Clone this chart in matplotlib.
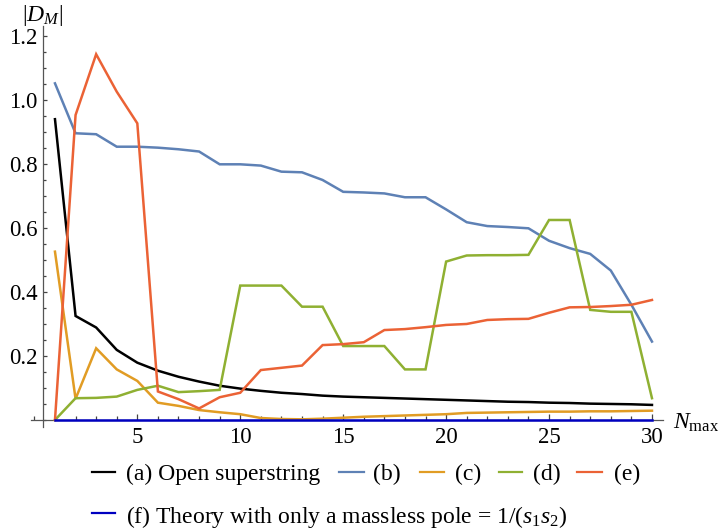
import numpy as np
import matplotlib
matplotlib.use("Agg")
import matplotlib.pyplot as plt
from matplotlib.lines import Line2D
from matplotlib.ticker import MultipleLocator, FixedLocator

plt.rcParams['font.family'] = ['Liberation Serif', 'DejaVu Serif']
plt.rcParams['mathtext.fontset'] = 'custom'
plt.rcParams['mathtext.rm'] = 'Liberation Serif'
plt.rcParams['mathtext.it'] = 'Liberation Serif:italic'

# Truncation level
n_max = list(range(1, 31))

# |D_M| for each theory
d_a = [0.94, 0.325, 0.289, 0.219, 0.179, 0.154, 0.135, 0.12, 0.107, 0.098,
       0.091, 0.085, 0.081, 0.076, 0.073, 0.071, 0.069, 0.067, 0.065, 0.063,
       0.061, 0.059, 0.057, 0.056, 0.054, 0.053, 0.051, 0.05, 0.049, 0.047]
d_b = [1.052, 0.896, 0.893, 0.854, 0.854, 0.851, 0.846, 0.839, 0.799, 0.799,
       0.795, 0.776, 0.774, 0.75, 0.713, 0.711, 0.708, 0.696, 0.696, 0.658,
       0.618, 0.606, 0.603, 0.599, 0.56, 0.537, 0.519, 0.467, 0.36, 0.245]
d_c = [0.526, 0.066, 0.224, 0.158, 0.122, 0.054, 0.044, 0.031, 0.024, 0.018,
       0.006, 0.003, 0.002, 0.004, 0.007, 0.01, 0.012, 0.014, 0.016, 0.018,
       0.022, 0.023, 0.024, 0.025, 0.026, 0.026, 0.027, 0.027, 0.028, 0.029]
d_d = [0.0, 0.068, 0.069, 0.073, 0.094, 0.107, 0.087, 0.09, 0.094, 0.42,
       0.42, 0.42, 0.354, 0.354, 0.231, 0.231, 0.231, 0.158, 0.158, 0.495,
       0.514, 0.515, 0.515, 0.516, 0.625, 0.625, 0.344, 0.338, 0.338, 0.068]
d_e = [0.0, 0.953, 1.143, 1.026, 0.927, 0.089, 0.065, 0.036, 0.071, 0.085,
       0.156, 0.163, 0.17, 0.234, 0.237, 0.243, 0.281, 0.284, 0.29, 0.297,
       0.3, 0.3125, 0.315, 0.316, 0.335, 0.352, 0.353, 0.356, 0.36, 0.375]
d_f = [0.0] * 30

labels = ["(a) Open superstring", "(b)", "(c)", "(d)", "(e)",
          r"(f) Theory with only a massless pole = 1/($s_1 s_2$)"]
colors = ["black", "#5E81B5", "#E19C24", "#8FB032", "#EB6235", "#0000c0"]
series = [d_a, d_b, d_c, d_d, d_e, d_f]

W, H = 719, 528
fig = plt.figure(figsize=(W / 100, H / 100), dpi=100)
ax = fig.add_axes([31.3 / W, 1 - 427 / H, 632 / W, 400.6 / H])

for i in range(len(series)):
    ax.plot(n_max, series[i], color=colors[i], lw=1.8, zorder=3 + i,
            solid_joinstyle='miter')

ax.set_xlim(-0.15, 30.55)
ax.set_ylim(-0.022, 1.23)

# Axes crossing near the origin
for s in ["top", "right"]:
    ax.spines[s].set_visible(False)
ax.spines["left"].set_position(("data", 0.43))
ax.spines["bottom"].set_position(("data", 0))
for s in ["left", "bottom"]:
    ax.spines[s].set_color("#555555")
    ax.spines[s].set_linewidth(0.9)

ax.xaxis.set_major_locator(FixedLocator([5, 10, 15, 20, 25, 30]))
ax.xaxis.set_minor_locator(MultipleLocator(1))
ax.yaxis.set_major_locator(FixedLocator([0.2, 0.4, 0.6, 0.8, 1.0, 1.2]))
ax.yaxis.set_minor_locator(MultipleLocator(0.05))
ax.yaxis.set_major_formatter(plt.FuncFormatter(lambda v, p: "%.1f" % v))
ax.tick_params(axis="both", which="both", direction="in", color="#444444",
               labelsize=16.5, width=0.9)
ax.tick_params(axis="x", which="major", length=4.5, pad=5)
ax.tick_params(axis="x", which="minor", length=2.8)
ax.tick_params(axis="y", which="major", length=3.2, pad=4)
ax.tick_params(axis="y", which="minor", length=2.0)

fig.text(42 / W, 1 - 16 / H, r"$|D_M|$", fontsize=17, ha="center", va="center")
fig.text(673 / W, 1 - 423 / H, r"$N_{\mathrm{max}}$", fontsize=17,
         ha="left", va="center")

# Legend below the plot
rows = [472, 472, 472, 472, 472, 513]
line_x = [(92, 115), (339, 364), (420, 444), (499, 522), (577, 602), (92, 115)]
text_x = [126, 373, 455, 533, 614, 126]
for i in range(len(labels)):
    y = 1 - rows[i] / H
    fig.add_artist(Line2D([line_x[i][0] / W, line_x[i][1] / W], [y, y],
                          color=colors[i], lw=1.6, transform=fig.transFigure))
    fig.text(text_x[i] / W, y, labels[i], fontsize=17, ha="left",
             va="center_baseline")

fig.savefig("out.png", dpi=100)
